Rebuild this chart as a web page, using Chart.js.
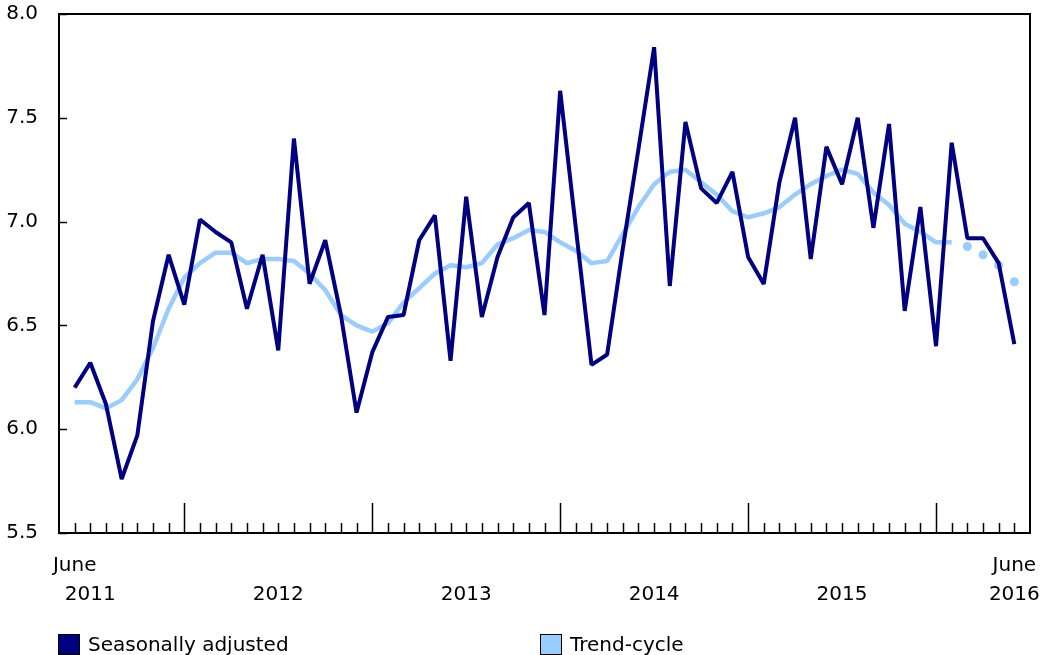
<!DOCTYPE html>
<html>
<head>
<meta charset="utf-8">
<script src="https://cdn.jsdelivr.net/npm/chart.js@4.4.1/dist/chart.umd.min.js"></script>
<style>
  body { margin: 0; background: #fff; }
  #wrap { position: relative; width: 1042px; height: 655px; font-family: "DejaVu Sans", Verdana, sans-serif; }
  .legend { position: absolute; top: 632px; display: flex; align-items: center; font-size: 20px; color: #000; }
  .legend .box { width: 20px; height: 19px; border: 1px solid #000; margin-right: 8px; }
</style>
</head>
<body>
<div id="wrap">
  <canvas id="chart"></canvas>
  <div class="legend" style="left:58px"><span class="box" style="background:#000080"></span>Seasonally adjusted</div>
  <div class="legend" style="left:540px"><span class="box" style="background:#99ccff"></span>Trend-cycle</div>
</div>
<script>
// monthly, June 2011 to June 2016
const seasonallyAdjusted = [
  6.20, 6.32, 6.12, 5.76, 5.97, 6.52, 6.84, 6.60, 7.01, 6.95,
  6.90, 6.58, 6.84, 6.38, 7.40, 6.70, 6.91, 6.55, 6.08, 6.37,
  6.54, 6.55, 6.91, 7.03, 6.33, 7.12, 6.54, 6.83, 7.02, 7.09,
  6.55, 7.63, 6.97, 6.31, 6.36, 6.87, 7.35, 7.84, 6.69, 7.48,
  7.16, 7.09, 7.24, 6.83, 6.70, 7.19, 7.50, 6.82, 7.36, 7.18,
  7.50, 6.97, 7.47, 6.57, 7.07, 6.40, 7.38, 6.92, 6.92, 6.80,
  6.41
];
const trendCycle = [
  6.13, 6.13, 6.10, 6.14, 6.24, 6.39, 6.58, 6.73, 6.80, 6.85,
  6.85, 6.80, 6.82, 6.82, 6.81, 6.75, 6.67, 6.55, 6.50, 6.47,
  6.51, 6.61, 6.68, 6.75, 6.79, 6.78, 6.80, 6.89, 6.92, 6.96,
  6.95, 6.90, 6.86, 6.80, 6.81, 6.94, 7.07, 7.18, 7.24, 7.25,
  7.19, 7.13, 7.05, 7.02, 7.04, 7.07, 7.13, 7.18, 7.22, 7.25,
  7.23, 7.14, 7.08, 6.99, 6.95, 6.90, 6.90
];
// last months of trend-cycle, shown as dots
const trendProjected = [6.88, 6.84, 6.79, 6.71];

const xTickIndex = [0, 1, 13, 25, 37, 49, 60];
const xTickLabels = [["June", ""], ["", "2011"], ["", "2012"], ["", "2013"], ["", "2014"], ["", "2015"], ["June", "2016"]];
const januaryIndex = [7, 19, 31, 43, 55];

const FONT = "'DejaVu Sans', Verdana, sans-serif";

const saPoints = seasonallyAdjusted.map((v, i) => ({ x: i, y: v }));
const trendPoints = trendCycle.map((v, i) => ({ x: i, y: v }));
const projPoints = trendProjected.map((v, i) => ({ x: trendCycle.length + i, y: v }));

// box, inner ticks
const frame = {
  id: "frame",
  afterDraw(chart) {
    const { ctx, chartArea: a, scales: { x, y } } = chart;
    ctx.save();
    ctx.strokeStyle = "#000";
    ctx.lineWidth = 1.5;
    for (let m = 0; m < seasonallyAdjusted.length; m++) {
      const px = Math.round(x.getPixelForValue(m)) + 0.5;
      const len = januaryIndex.includes(m) ? 30 : 10;
      ctx.beginPath();
      ctx.moveTo(px, a.bottom);
      ctx.lineTo(px, a.bottom - len);
      ctx.stroke();
    }
    y.ticks.forEach(t => {
      const py = Math.round(y.getPixelForValue(t.value)) + 0.5;
      ctx.beginPath();
      ctx.moveTo(a.left, py);
      ctx.lineTo(a.left + 8, py);
      ctx.stroke();
    });
    ctx.lineWidth = 2;
    ctx.strokeRect(a.left, a.top, a.right - a.left, a.bottom - a.top);
    ctx.restore();
  }
};

new Chart(document.getElementById("chart"), {
  type: "line",
  data: {
    datasets: [
      {
        label: "Seasonally adjusted",
        data: saPoints,
        borderColor: "#000080",
        borderWidth: 4,
        borderJoinStyle: "bevel",
        pointRadius: 0,
        tension: 0,
        order: 1
      },
      {
        label: "Trend-cycle",
        data: trendPoints,
        borderColor: "#99ccff",
        borderWidth: 4.5,
        borderJoinStyle: "bevel",
        pointRadius: 0,
        tension: 0,
        order: 2
      },
      {
        label: "Trend-cycle projected",
        data: projPoints,
        showLine: false,
        pointRadius: 4.5,
        pointBackgroundColor: "#99ccff",
        pointBorderWidth: 0,
        order: 2
      }
    ]
  },
  plugins: [frame],
  options: {
    responsive: true,
    maintainAspectRatio: false,
    animation: false,
    layout: { padding: { left: 6, top: 14, right: 12, bottom: 46 } },
    plugins: {
      legend: { display: false },
      tooltip: { enabled: false }
    },
    scales: {
      x: {
        type: "linear",
        min: -1,
        max: 61,
        grid: { display: false, drawTicks: false },
        border: { display: false },
        afterFit: s => { s.height = 76; s.paddingLeft = 0; s.paddingRight = 0; },
        ticks: {
          stepSize: 1,
          autoSkip: false,
          maxRotation: 0,
          padding: 18,
          color: "#000",
          font: { family: FONT, size: 20, lineHeight: 1.45 },
          callback: v => {
            const k = xTickIndex.indexOf(v);
            return k >= 0 ? xTickLabels[k] : "";
          }
        }
      },
      y: {
        min: 5.5,
        max: 8,
        grid: { display: false, drawTicks: false },
        border: { display: false },
        afterFit: s => { s.width = 53; s.paddingTop = 0; s.paddingBottom = 0; },
        ticks: {
          stepSize: 0.5,
          padding: 21,
          color: "#000",
          font: { family: FONT, size: 20, lineHeight: 1.2 },
          callback: v => v.toFixed(1)
        }
      }
    }
  }
});
</script>
</body>
</html>
